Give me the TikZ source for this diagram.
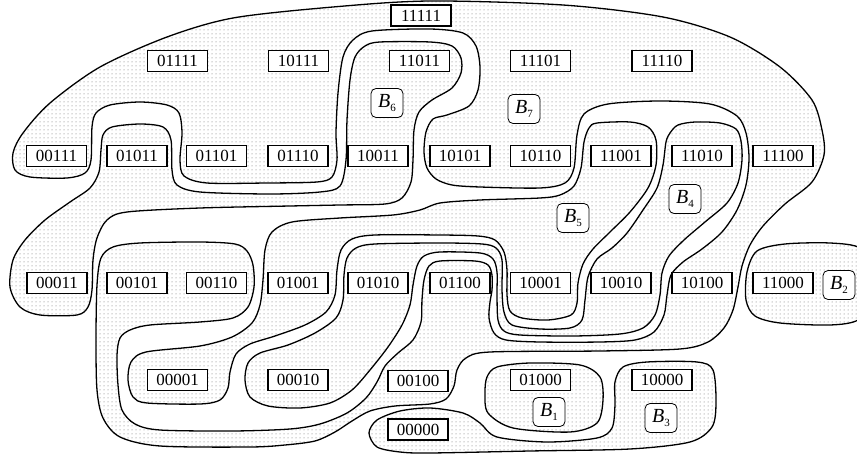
\documentclass[tikz,border=0pt]{standalone}
\usepackage{fontspec}
\setmainfont{Liberation Serif}
\usetikzlibrary{patterns}
\pgfdeclarepatternformonly{mydots}{\pgfqpoint{-1pt}{-1pt}}{\pgfqpoint{1pt}{1pt}}{\pgfqpoint{4pt}{4pt}}{\pgfpathcircle{\pgfpointorigin}{0.5pt}\pgfusepath{fill}}
\tikzset{
  blk/.style={line width=1.3pt, pattern=mydots, pattern color=black!60, line join=round},
  bit/.style={draw, line width=1.4pt, fill=white, minimum width=60pt, minimum height=21pt, inner sep=0pt, font=\fontsize{17}{17}\selectfont},
  blab/.style={draw, line width=0.8pt, rounded corners=5pt, fill=white, minimum width=32pt, minimum height=29pt, inner sep=0pt},
}
\newcommand{\Blab}[1]{{\fontsize{20}{20}\selectfont\itshape B}\raisebox{-4pt}{\fontsize{11}{11}\selectfont #1}}
\begin{document}
\begin{tikzpicture}[x=1pt,y=-1pt]
\useasboundingbox (0,0) rectangle (857,454);
% B7
\draw[blk] plot[smooth cycle, tension=0.5] coordinates {
(749,158) (746,185) (737,210) (722,232) (702,249) (683,262) (671,275) (667,295) (664,315) (654,332) (635,340) (600,342) (540,342) (506,340) (494,333) (489,318) (490,302) (492,290) (492,275) (488,265) (475,261) (440,261) (429,266) (424,280) (422,300) (421,322) (413,340) (398,353) (385,366) (377,382) (366,398) (347,413) (320,424) (290,429) (233,431) (160,430) (135,424) (122,410) (118,385) (117,355) (120,338) (130,330) (150,325) (200,322) (233,318) (248,307) (254,287) (253,265) (247,251) (235,244) (200,242) (140,243) (113,247) (101,258) (97,285) (96,340) (97,390) (103,418) (120,437) (160,446) (250,447) (285,445) (315,441) (335,432) (352,421) (370,411) (395,406) (430,404) (446,399) (454,386) (457,370) (466,358) (490,352) (600,351) (680,349) (708,342) (724,328) (733,310) (738,287) (742,266) (750,245) (763,226) (785,204) (812,182) (824,155) (822,130) (812,100) (780,67) (730,37) (663,17) (563,5) (430,1) (333,7) (233,18) (167,37) (100,67) (50,103) (23,133) (13,153) (15,170) (30,177) (67,178) (85,173) (91,160) (92,127) (96,113) (110,105) (140,102) (167,105) (179,113) (182,133) (180,160) (184,176) (207,183) (267,183) (317,182) (332,177) (337,160) (336,133) (338,93) (343,57) (353,40) (372,31) (430,29) (463,33) (476,46) (480,67) (478,90) (469,106) (447,115) (433,119) (426,132) (424,152) (427,168) (436,179) (452,185) (480,187) (540,188) (565,183) (574,168) (577,135) (584,114) (608,104) (660,101) (710,104) (737,116) (746,133)};
% B6
\draw[blk] plot[smooth cycle, tension=0.5] coordinates {
(380,42) (430,42) (452,46) (461,58) (461,73) (452,88) (432,100) (419,112) (414,130) (413,160) (411,182) (402,198) (385,204) (340,205) (290,206) (200,208) (127,212) (107,220) (97,238) (93,260) (92,290) (88,307) (77,315) (40,315) (20,307) (10,287) (13,260) (25,240) (45,220) (70,202) (90,188) (99,172) (101,150) (103,135) (112,127) (140,124) (163,127) (171,140) (172,170) (177,185) (200,192) (270,194) (320,192) (340,186) (346,160) (347,120) (350,80) (355,57) (365,46)};
% B5
\draw[blk] plot[smooth cycle, tension=0.5] coordinates {
(597,123) (630,122) (648,127) (656,140) (656,165) (648,188) (630,212) (610,232) (593,249) (583,264) (578,283) (577,303) (571,315) (548,320) (522,318) (510,311) (507,295) (507,270) (504,252) (495,240) (478,236) (440,235) (375,235) (352,239) (341,250) (337,270) (335,295) (326,312) (305,325) (275,336) (250,344) (236,354) (230,372) (228,388) (220,400) (200,404) (147,403) (133,397) (128,380) (131,362) (146,352) (200,346) (232,337) (252,323) (260,305) (263,280) (265,250) (272,232) (292,222) (340,218) (393,215) (420,210) (440,203) (480,200) (540,198) (560,195) (574,186) (581,168) (584,142) (589,128)};
% B4
\draw[blk] plot[smooth cycle, tension=0.5] coordinates {
(670,133) (678,125) (695,122) (720,123) (736,129) (741,141) (742,160) (738,183) (727,203) (705,222) (684,240) (669,256) (662,273) (660,295) (655,315) (643,328) (620,334) (573,336) (520,335) (504,331) (498,320) (497,295) (497,272) (493,259) (480,253) (440,252) (424,256) (417,266) (413,285) (410,305) (402,325) (388,347) (370,370) (352,390) (330,403) (300,408) (268,406) (250,397) (245,380) (248,363) (260,353) (288,345) (315,333) (336,318) (343,300) (344,275) (347,258) (356,248) (375,244) (440,243) (482,244) (496,248) (502,260) (502,290) (504,312) (512,325) (540,329) (570,328) (582,320) (585,300) (588,277) (597,259) (612,248) (627,233) (643,210) (657,188) (663,165) (666,142)};
% B3
\draw[blk] plot[smooth cycle, tension=0.5] coordinates {
(430,408) (463,413) (480,423) (497,437) (547,442) (597,438) (612,428) (615,405) (615,382) (623,367) (647,362) (697,362) (713,370) (716,403) (712,427) (690,442) (630,449) (530,451) (430,453) (400,452) (377,447) (369,433) (377,420) (400,411)};
% B1
\draw[blk] plot[smooth cycle, tension=0.5] coordinates {
(487,377) (497,367) (530,363) (580,365) (600,377) (603,400) (597,423) (570,432) (513,428) (488,413) (485,393)};
% B2
\draw[blk] plot[smooth cycle, tension=0.5] coordinates {
(757,251) (785,244) (830,243) (860,248) (872,270) (872,300) (858,320) (830,325) (780,323) (755,316) (746,300) (747,272)};
% vertices
\node[bit] (n11111) at (421,15.5) {11111};
\node[bit] (n01111) at (177.5,61) {01111};
\node[bit] (n10111) at (298.5,61) {10111};
\node[bit] (n11011) at (419.5,61) {11011};
\node[bit] (n11101) at (540.5,61) {11101};
\node[bit] (n11110) at (662,61) {11110};
\node[bit] (n00111) at (56.5,156) {00111};
\node[bit] (n01011) at (137,156) {01011};
\node[bit] (n01101) at (216.5,156) {01101};
\node[bit] (n01110) at (298,156) {01110};
\node[bit] (n10011) at (378,156) {10011};
\node[bit] (n10101) at (460,156) {10101};
\node[bit] (n10110) at (540.5,156) {10110};
\node[bit] (n11001) at (621,156) {11001};
\node[bit] (n11010) at (702,156) {11010};
\node[bit] (n11100) at (783,156) {11100};
\node[bit] (n00011) at (57,283) {00011};
\node[bit] (n00101) at (137,283) {00101};
\node[bit] (n00110) at (216.5,283) {00110};
\node[bit] (n01001) at (298,283) {01001};
\node[bit] (n01010) at (378,283) {01010};
\node[bit] (n01100) at (460,283) {01100};
\node[bit] (n10001) at (540.5,283) {10001};
\node[bit] (n10010) at (621,283) {10010};
\node[bit] (n10100) at (702,283) {10100};
\node[bit] (n11000) at (783,283) {11000};
\node[bit] (n00001) at (177.5,380) {00001};
\node[bit] (n00010) at (298,380) {00010};
\node[bit] (n00100) at (418,381) {00100};
\node[bit] (n01000) at (540.5,380) {01000};
\node[bit] (n10000) at (662,380) {10000};
\node[bit] (n00000) at (418,429.5) {00000};
% block labels
\node[blab] (b1) at (549,412) {\Blab{1}};
\node[blab] (b2) at (839,285) {\Blab{2}};
\node[blab] (b3) at (661,418) {\Blab{3}};
\node[blab] (b4) at (685,199) {\Blab{4}};
\node[blab] (b5) at (573,218) {\Blab{5}};
\node[blab] (b6) at (387,103) {\Blab{6}};
\node[blab] (b7) at (524,109) {\Blab{7}};
\end{tikzpicture}
\end{document}
